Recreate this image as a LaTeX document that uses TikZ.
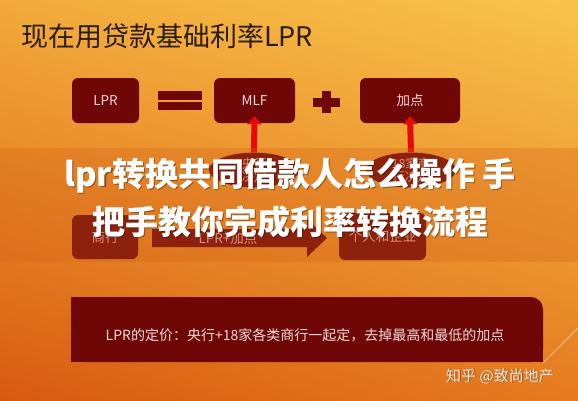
\documentclass[tikz,border=0pt]{standalone}
\usepackage{fontspec}
\newfontfamily\cjk{Noto Sans CJK SC}
\usetikzlibrary{shapes.geometric,arrows.meta,shadings}
\definecolor{boxred}{HTML}{6F0707}
\definecolor{boxtxt}{HTML}{F2DADA}
\definecolor{dimtxt}{HTML}{D9A9A9}
\definecolor{titletxt}{HTML}{2A1C0E}
\definecolor{arrowred}{HTML}{E30B0B}
\definecolor{bgul}{RGB}{242,170,58}
\definecolor{bgur}{RGB}{249,196,74}
\definecolor{bgll}{RGB}{216,90,16}
\definecolor{bglr}{RGB}{229,122,32}
\definecolor{bandc}{RGB}{214,96,24}
\tikzset{
  box/.style={fill=boxred, rounded corners=6pt, text=boxtxt, inner sep=0pt,
    font=\cjk\fontsize{13.5}{15}\selectfont},
  oval/.style={ellipse, fill=boxred, text=dimtxt, inner sep=0pt,
    minimum width=90pt, minimum height=34pt, align=center,
    font=\cjk\fontsize{12.5}{13}\selectfont},
  uparrow/.style={draw=arrowred, line width=6pt,
    -{Triangle[width=14pt,length=8pt]}},
  bigtitle/.style={text=white, font=\cjk\bfseries\fontsize{33}{36}\selectfont},
  titleshadow/.style={text=black, opacity=0.35, font=\cjk\bfseries\fontsize{33}{36}\selectfont}
}
\begin{document}
\begin{tikzpicture}[x=1pt,y=-1pt]
\useasboundingbox (0,0) rectangle (578,400);
% background
\shade[upper left=bgul, upper right=bgur, lower left=bgll, lower right=bglr] (0,0) rectangle (578,400);
% heading
\node[anchor=west, text=titletxt, font=\cjk\fontsize{27}{30}\selectfont, inner sep=0pt] (head) at (21,36) {现在用贷款基础利率LPR};
% top row
\node[box, minimum width=67pt, minimum height=45pt] (lpr) at (105.5,100.5) {LPR};
\fill[boxred] (158,91) rectangle (202,100);
\fill[boxred] (158,102) rectangle (202,110);
\node[box, minimum width=81pt, minimum height=45pt] (mlf) at (254.5,100.5) {MLF};
\fill[boxred] (313,97.5) rectangle (340,106.5);
\fill[boxred] (322,91) rectangle (331,113);
\node[box, minimum width=100pt, minimum height=45pt] (jd) at (410,100.5) {加点};
% ellipses
\node[oval] (e1) at (254,170) {央行\\决定};
\node[oval] (e2) at (411,170) {18家商\\行决定};
\draw[uparrow] (e1.north) -- ([yshift=7pt]mlf.south);
\draw[uparrow] (e2.north) -- ([yshift=7pt]jd.south);
% bottom row
\node[box, text=dimtxt, minimum width=66pt, minimum height=44pt] (sh) at (105,237) {商行};
\node[box, text=dimtxt, minimum width=87pt, minimum height=47pt] (gr) at (382.5,236.5) {个人和企业};
\fill[boxred] (152,229) -- (307,229) -- (307,219) -- (327,238) -- (307,257) -- (307,247) -- (152,247) -- cycle;
\node[text=dimtxt, font=\cjk\fontsize{13.5}{15}\selectfont] (lbl) at (228,238) {LPR+加点};
% band
\fill[bandc, opacity=0.3] (0,148) rectangle (578,262);
% overlay title
\node[titleshadow] at (291.2,177.2) {lpr转换共同借款人怎么操作 手};
\node[titleshadow] at (291.2,223.2) {把手教你完成利率转换流程};
\node[bigtitle] (t1) at (290,176) {lpr转换共同借款人怎么操作 手};
\node[bigtitle] (t2) at (290,222) {把手教你完成利率转换流程};
% bottom definition box
\fill[boxred, rounded corners=12pt] (71,297) rectangle (543,362);
\fill[boxred] (71,297) rectangle (525,362);
\fill[boxred] (71,315) rectangle (543,362);
\node[text=boxtxt, font=\cjk\fontsize{14}{16}\selectfont] (def) at (305,335) {LPR的定价：央行+18家各类商行一起定，去掉最高和最低的加点};
\draw[white, opacity=0.7, line width=0.6pt] (543,363) -- (578,328);
% watermark
\node[text=black, opacity=0.4, font=\cjk\fontsize{15}{17}\selectfont] at (500.8,376.8) {知乎 @致尚地产};
\node[text=white, opacity=0.9, font=\cjk\fontsize{15}{17}\selectfont] (wm) at (500,376) {知乎 @致尚地产};
\end{tikzpicture}
\end{document}
